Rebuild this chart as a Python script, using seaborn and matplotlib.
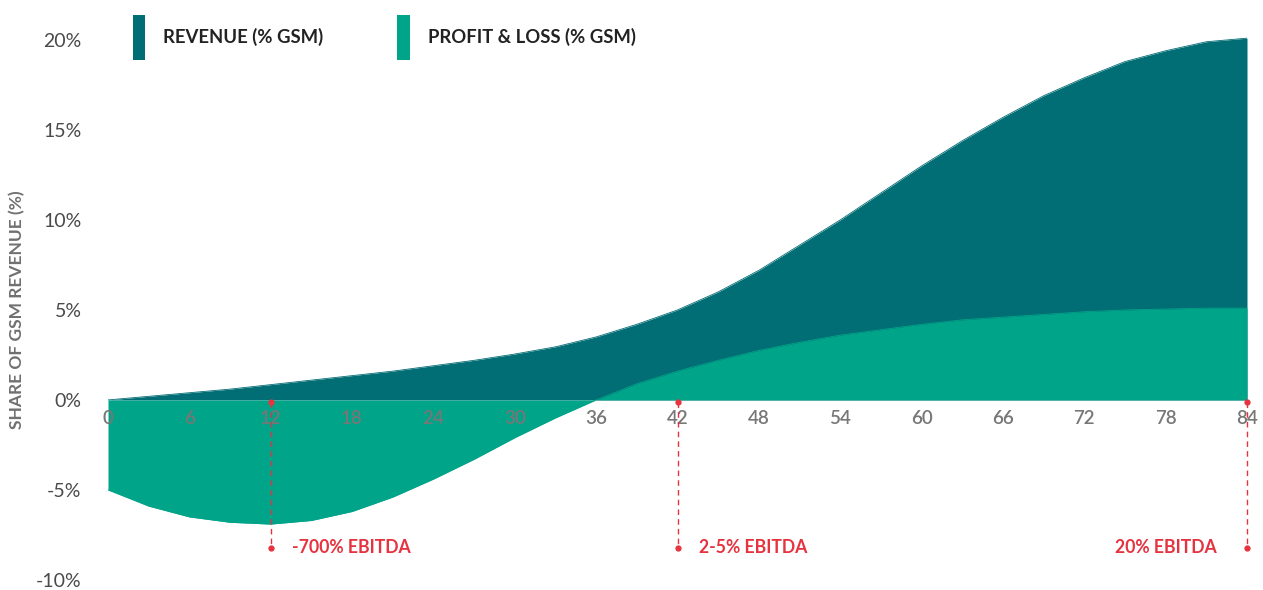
import numpy as np
import matplotlib.pyplot as plt
import seaborn as sns
import pandas as pd

# months since launch
months = [0, 3, 6, 9, 12, 15, 18, 21, 24, 27, 30, 33, 36, 39, 42,
          45, 48, 51, 54, 57, 60, 63, 66, 69, 72, 75, 78, 81, 84]
# revenue, % of GSM revenue
revenue = [0.0, 0.2, 0.4, 0.6, 0.85, 1.1, 1.35, 1.6, 1.9, 2.2, 2.55, 2.95, 3.5, 4.2, 5.0,
           6.0, 7.2, 8.6, 10.0, 11.5, 13.0, 14.4, 15.7, 16.9, 17.9, 18.8, 19.4, 19.9, 20.1]
# profit & loss, % of GSM revenue
profit = [-5.0, -5.9, -6.5, -6.8, -6.9, -6.7, -6.2, -5.4, -4.4, -3.3, -2.1, -1.0, 0.0, 0.9, 1.6,
          2.2, 2.75, 3.2, 3.6, 3.9, 4.2, 4.45, 4.6, 4.75, 4.9, 5.0, 5.05, 5.1, 5.1]

ebitda_months = [12, 42, 84]
ebitda_labels = ["-700% EBITDA", "2-5% EBITDA", "20% EBITDA"]

df = pd.DataFrame({"month": months, "revenue": revenue, "profit": profit})

sns.set_theme(style="white")
plt.rcParams['font.family'] = ['Lato', 'DejaVu Sans']

c_rev = "#016d74"
c_pl = "#00a489"
c_red = "#e63340"

fig = plt.figure(figsize=(12.63, 5.9), dpi=100)
ax = fig.add_axes([108 / 1263, 0, (1247 - 108) / 1263, 1])

ax.fill_between(df["month"], 0, df["revenue"], color=c_rev, lw=0, label="REVENUE (% GSM)")
ax.fill_between(df["month"], 0, df["profit"], color=c_pl, lw=0, label="PROFIT & LOSS (% GSM)")
sns.lineplot(data=df, x="month", y="revenue", color=c_rev, lw=0.6, ax=ax)
sns.lineplot(data=df, x="month", y="profit", color=c_pl, lw=0.6, ax=ax)

# EBITDA markers
for m, lab in zip(ebitda_months, ebitda_labels):
    ax.plot([m, m], [-0.1, -8.2], color=c_red, lw=1, ls=(0, (4, 3)), zorder=4, clip_on=False)
    ax.plot([m, m], [-0.1, -8.2], 'o', color=c_red, ms=3.5, zorder=4, clip_on=False)
    if m == max(ebitda_months):
        ax.text(m - 2.2, -8.2, lab, color=c_red, fontsize=12.7, fontweight='bold',
                ha='right', va='center')
    else:
        ax.text(m + 1.6, -8.2, lab, color=c_red, fontsize=12.7, fontweight='bold',
                ha='left', va='center')

ax.set_axisbelow(False)
ax.set_xlim(0, 84)
ax.set_ylim(-10.56, 22.22)
ax.set_xticks(range(0, 85, 6))
ax.set_yticks(range(-10, 21, 5))
ax.set_yticklabels([f"{v}%" for v in range(-10, 21, 5)])
ax.set_xlabel("")
ax.set_ylabel("")
ax.spines['bottom'].set_position(('data', 0))
for s in ax.spines.values():
    s.set_visible(False)
ax.tick_params(axis='x', length=0, pad=7, labelsize=13.5, labelcolor="#777777")
ax.tick_params(axis='y', length=0, pad=19, labelsize=14, labelcolor="#4a4a4a")
for t in ax.get_xticklabels():
    t.set_fontweight('semibold')

fig.text(17 / 1263, 1 - 310 / 590, "SHARE OF GSM REVENUE (%)", rotation=90,
         ha='center', va='center', color="#707070", fontsize=12.5, fontweight='bold')

ax.legend(loc='upper left', bbox_to_anchor=(25 / 1139, 1 - 15 / 590), ncol=2, frameon=False,
          handlelength=0.65, handleheight=3.35, handletextpad=1.0,
          columnspacing=4.0, borderpad=0, borderaxespad=0, labelcolor="#222222",
          prop={'weight': 'bold', 'size': 13.3})

fig.savefig("out.png", dpi=100)
